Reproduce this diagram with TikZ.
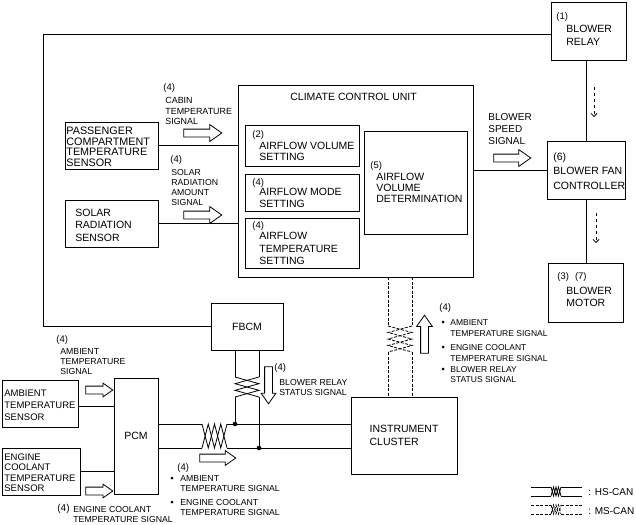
\documentclass[tikz,border=0pt]{standalone}
\usepackage{fontspec}
\setmainfont{Liberation Sans}
\usetikzlibrary{shapes.arrows,arrows.meta}
\tikzset{
  box/.style={draw, rectangle, inner sep=0pt, font=\fontsize{10.5}{13}\selectfont},
  inbox/.style={draw, rectangle, inner sep=0pt, line width=0.5pt},
  txt/.style={anchor=north west, inner sep=0pt, align=left, font=\fontsize{10.5}{11}\selectfont},
  lbl/.style={anchor=north west, inner sep=0pt, align=left, font=\fontsize{8.7}{10}\selectfont},
  num/.style={anchor=north west, inner sep=0pt, font=\fontsize{9.5}{10}\selectfont},
  hollow/.style={single arrow, draw, fill=white, inner sep=3.5pt, minimum height=38pt,
    single arrow head extend=4.5pt, single arrow tip angle=70},
  canms/.style={dash pattern=on 3pt off 1.5pt}
}
\begin{document}
\begin{tikzpicture}[x=1pt,y=-1pt,line width=0.8pt]
\useasboundingbox (0,0) rectangle (636,524);
% boxes
\node[box,minimum width=75pt,minimum height=58pt] (relay) at (588.5,31) {};
\node[box,minimum width=78pt,minimum height=58pt] (fan) at (586,170) {};
\node[box,minimum width=75pt,minimum height=59pt] (motor) at (585.5,292.5) {};
\node[box,minimum width=235pt,minimum height=192pt] (ccu) at (355.5,181) {};
\node[inbox,minimum width=114pt,minimum height=41pt] (vol) at (302,145.5) {};
\node[inbox,minimum width=114pt,minimum height=37pt] (mode) at (302,192.5) {};
\node[inbox,minimum width=114pt,minimum height=50pt] (temp) at (302,243) {};
\node[inbox,minimum width=103pt,minimum height=103pt] (det) at (415.5,182.5) {};
\node[box,minimum width=93pt,minimum height=47pt] (pass) at (111.5,145.5) {};
\node[box,minimum width=93pt,minimum height=47pt] (solar) at (111.5,223.5) {};
\node[box,minimum width=72pt,minimum height=47pt] (fbcm) at (247,326.5) {FBCM};
\node[box,minimum width=44pt,minimum height=116pt] (pcm) at (136,436) {PCM};
\node[box,minimum width=76pt,minimum height=47pt] (amb) at (40,403.5) {};
\node[box,minimum width=78pt,minimum height=47pt] (ect) at (41,471.5) {};
\node[box,minimum width=106pt,minimum height=77pt,align=left] (ic) at (404,435.5) {INSTRUMENT\\CLUSTER};
% box texts
\node[num] (t1) at (556,12) {(1)};
\node[txt,font=\fontsize{10.5}{13}\selectfont] (trelay) at (566,25) {BLOWER\\RELAY};
\node[txt,font=\fontsize{10.5}{14.5}\selectfont] (tfan) at (553,152) {(6)\\BLOWER FAN\\CONTROLLER};
\node[num] (t37) at (557,272) {(3)\hspace{6pt}(7)};
\node[txt,font=\fontsize{10.5}{12}\selectfont] (tmotor) at (566,287) {BLOWER\\MOTOR};
\node[txt] (tccu) at (290,93) {CLIMATE CONTROL UNIT};
\node[num] (t2) at (252,130) {(2)};
\node[txt] (tvol) at (259,142) {AIRFLOW VOLUME\\SETTING};
\node[num] (t4a) at (252,178) {(4)};
\node[txt,font=\fontsize{10.5}{12}\selectfont] (tmode) at (259,188) {AIRFLOW MODE\\SETTING};
\node[num] (t4b) at (252,221) {(4)};
\node[txt,font=\fontsize{10.5}{12.5}\selectfont] (ttemp) at (259,232) {AIRFLOW\\TEMPERATURE\\SETTING};
\node[num] (t5) at (370,161) {(5)};
\node[txt] (tdet) at (376,173) {AIRFLOW\\VOLUME\\DETERMINATION};
\node[txt,font=\fontsize{10.8}{10.7}\selectfont] (tpass) at (66,126.5) {PASSENGER\\COMPARTMENT\\TEMPERATURE\\SENSOR};
\node[txt,font=\fontsize{10.5}{12.4}\selectfont] (tsolar) at (75,208.5) {SOLAR\\RADIATION\\SENSOR};
\node[txt,font=\fontsize{9.5}{12}\selectfont] (tamb) at (4,389.5) {AMBIENT\\TEMPERATURE\\SENSOR};
\node[txt,font=\fontsize{9.5}{10.4}\selectfont] (tect) at (4,453.5) {ENGINE\\COOLANT\\TEMPERATURE\\SENSOR};
% signal labels
\node[txt,font=\fontsize{10}{12}\selectfont] (lspeed) at (488,113.5) {BLOWER\\SPEED\\SIGNAL};
\node[num] (l4a) at (163,83) {(4)};
\node[lbl,font=\fontsize{8.9}{10.5}\selectfont] (lcabin) at (165,97) {CABIN\\TEMPERATURE\\SIGNAL};
\node[num] (l4b) at (170,155) {(4)};
\node[lbl] (lsolar) at (171,169) {SOLAR\\RADIATION\\AMOUNT\\SIGNAL};
\node[num] (l4c) at (56,335) {(4)};
\node[lbl] (lamb) at (60,348) {AMBIENT\\TEMPERATURE\\SIGNAL};
\node[num,font=\fontsize{10}{10}\selectfont] (l4d) at (57,504) {(4)};
\node[lbl] (lect) at (73,506) {ENGINE COOLANT\\TEMPERATURE SIGNAL};
\node[num] (l4e) at (274,363) {(4)};
\node[lbl] (lrelay) at (279,379) {BLOWER RELAY\\STATUS SIGNAL};
\node[num] (l4f) at (177,463) {(4)};
\node[lbl] (lbusa) at (180,475) {AMBIENT\\TEMPERATURE SIGNAL};
\node[lbl] (lbusb) at (180,499) {ENGINE COOLANT\\TEMPERATURE SIGNAL};
\fill (172,478) circle (1.5) (172,502) circle (1.5);
\node[num] (l4g) at (439,303) {(4)};
\node[lbl,font=\fontsize{8.5}{11}\selectfont] (lupa) at (450,319) {AMBIENT\\TEMPERATURE SIGNAL};
\node[lbl,font=\fontsize{8.5}{11}\selectfont] (lupb) at (450,344) {ENGINE COOLANT\\TEMPERATURE SIGNAL};
\node[lbl,font=\fontsize{8.5}{10}\selectfont] (lupc) at (450,366) {BLOWER RELAY\\STATUS SIGNAL};
\fill (443,322) circle (1.5) (443,347) circle (1.5) (443,369) circle (1.5);
% hollow arrows
\node[hollow] (acabin) at (200,133) {};
\node[hollow] (asolar) at (200,215) {};
\node[hollow,minimum height=37pt] (aspeed) at (509.5,158) {};
\node[hollow,minimum height=27pt,single arrow head extend=3pt] (aamb) at (96.5,390) {};
\node[hollow,minimum height=27pt,single arrow head extend=3pt] (aect) at (96.5,491) {};
\node[hollow,minimum height=36pt,single arrow head extend=3.5pt] (abus) at (215,458) {};
\node[hollow,minimum height=37pt,single arrow head extend=3.5pt,rotate=-90] (arelay) at (268.5,382.5) {};
\node[hollow,single arrow head extend=4pt,rotate=90] (aup) at (424.5,337) {};
% wiring
\draw ([yshift=-3pt]relay.west) -| (43,0 |- fbcm.west) -- (fbcm.west);
\draw (pass.east) -- (pass.east -| ccu.west);
\draw (solar.east) -- (solar.east -| ccu.west);
\draw (fan.west -| ccu.east) -- (fan.west);
\draw (fan.north |- relay.south) -- (fan.north);
\draw (fan.south) -- (fan.south |- motor.north);
\draw ([yshift=-2.5pt]amb.east) -- ([yshift=-2.5pt]amb.east -| pcm.west);
\draw (ect.east) -- (ect.east -| pcm.west);
\draw[dashed,-{Straight Barb[length=3pt,width=6pt]}] (594,87) -- (594,117);
\draw[dashed,-{Straight Barb[length=3pt,width=6pt]}] (596,213) -- (596,243);
% HS-CAN
\coordinate (hA) at (202,424);
\coordinate (hB) at (227,424);
\coordinate (hC) at (202,448);
\coordinate (hD) at (227,448);
\draw ([yshift=12pt]pcm.east) -- (hA);
\draw ([yshift=-12pt]pcm.east) -- (hC);
\draw (hA) -- (208.25,448) -- (214.5,424) -- (220.75,448) -- (hB);
\draw (hC) -- (208.25,424) -- (214.5,448) -- (220.75,424) -- (hD);
\draw (hB) -- (hB -| ic.west);
\draw (hD) -- (hD -| ic.west);
\coordinate (vA) at (235,377);
\coordinate (vB) at (259,377);
\coordinate (vC) at (235,397);
\coordinate (vD) at (259,397);
\draw ([xshift=-12pt]fbcm.south) -- (vA);
\draw ([xshift=12pt]fbcm.south) -- (vB);
\draw (vA) -- (259,383.7) -- (235,390.3) -- (vD);
\draw (vB) -- (235,383.7) -- (259,390.3) -- (vC);
\draw (vC) -- (235,424);
\draw (vD) -- (259,448);
\fill (235,424) circle (2.3) (259,448) circle (2.3);
% MS-CAN
\coordinate (mA) at (388,326);
\coordinate (mB) at (412,326);
\coordinate (mC) at (388,352);
\coordinate (mD) at (412,352);
\draw[canms] (388,0 |- ccu.south) -- (mA);
\draw[canms] (412,0 |- ccu.south) -- (mB);
\draw[canms] (mA) -- (412,332.5) -- (388,339) -- (412,345.5) -- (mC);
\draw[canms] (mB) -- (388,332.5) -- (412,339) -- (388,345.5) -- (mD);
\draw[canms] (mC) -- (388,0 |- ic.north);
\draw[canms] (mD) -- (412,0 |- ic.north);
% legend
\draw (531,487) -- (551,487) (561,487) -- (582,487) (531,496) -- (551,496) (561,496) -- (582,496);
\draw (551,487) -- (553.5,496) -- (556,487) -- (558.5,496) -- (561,487);
\draw (551,496) -- (553.5,487) -- (556,496) -- (558.5,487) -- (561,496);
\draw[canms] (531,505) -- (551,505) (561,505) -- (582,505) (531,514) -- (551,514) (561,514) -- (582,514);
\draw[canms] (551,505) -- (553.5,514) -- (556,505) -- (558.5,514) -- (561,505);
\draw[canms] (551,514) -- (553.5,505) -- (556,514) -- (558.5,505) -- (561,514);
\node[txt,font=\fontsize{10}{10}\selectfont] (khs) at (588,488) {: HS-CAN};
\node[txt,font=\fontsize{10}{10}\selectfont] (kms) at (588,507) {: MS-CAN};
\end{tikzpicture}
\end{document}
